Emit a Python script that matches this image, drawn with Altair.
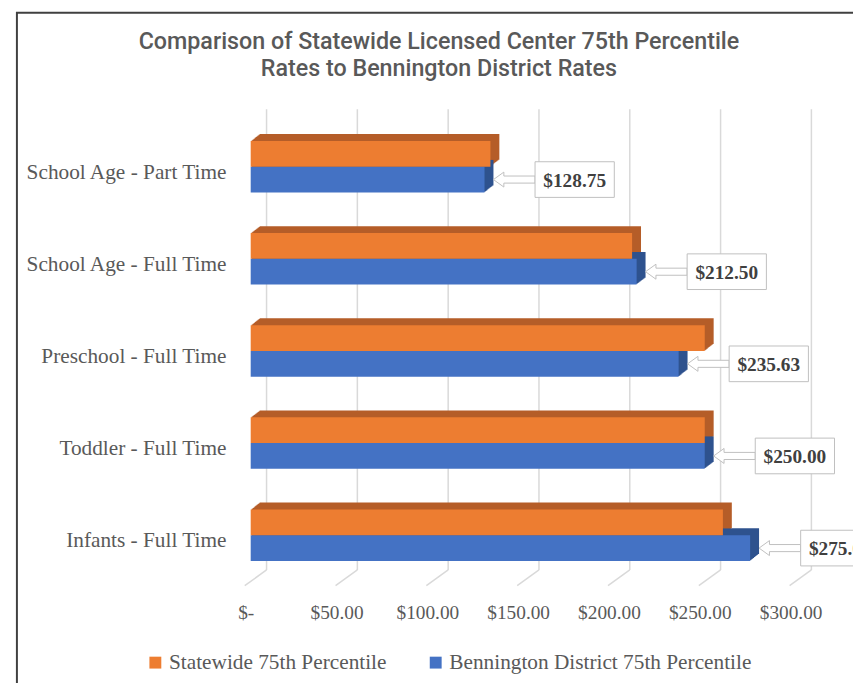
import altair as alt
import pandas as pd

# ---------------- data ----------------
categories = [
    "School Age - Part Time",
    "School Age - Full Time",
    "Preschool - Full Time",
    "Toddler - Full Time",
    "Infants - Full Time",
]
statewide = [132.00, 210.00, 250.00, 250.00, 260.00]
bennington = [128.75, 212.50, 235.63, 250.00, 275.00]
series_names = ["Statewide 75th Percentile", "Bennington District 75th Percentile"]
tick_values = [0, 50, 100, 150, 200, 250, 300]
title_lines = [
    "Comparison of Statewide Licensed Center 75th Percentile",
    "Rates to Bennington District Rates",
]

rows = []
for c, s, b in zip(categories, statewide, bennington):
    rows.append({"category": c, "series": series_names[0], "value": s})
    rows.append({"category": c, "series": series_names[1], "value": b})
df = pd.DataFrame(rows)
ticks_df = pd.DataFrame({"v": tick_values})
one_row = pd.DataFrame({"a": [0]})

# ---------------- styling ----------------
ORANGE, BLUE = "#ED7D31", "#4472C4"
ORANGE_DARK, BLUE_DARK = "#B55D28", "#2E528E"
GRID = "#D9D9D9"
TEXT = "#595959"
SERIF = "Liberation Serif"
BAR_H = 26
DEPTH_X, DEPTH_Y, STEPS = 9, 7, 9

x_scale = alt.Scale(domain=[0, 300], nice=False, zero=True)
y_scale = alt.Scale(domain=categories, paddingInner=0.4, paddingOuter=0.2)

x_axis = alt.Axis(
    values=tick_values,
    labelExpr="datum.value == 0 ? '$-' : '$' + format(datum.value, '.2f')",
    domain=False, ticks=False, grid=False, labelFlush=False,
    labelFont=SERIF, labelFontSize=19.5, labelColor=TEXT,
    labelPadding=23, labelOffset=-5, title=None,
)
y_axis = alt.Axis(
    domain=False, ticks=False, grid=False,
    labelFont=SERIF, labelFontSize=21.5, labelColor=TEXT,
    labelPadding=25, labelOffset=6, labelLimit=0, title=None,
)


def X(field):
    return alt.X(field, type="quantitative", scale=x_scale, axis=x_axis)


def Y(field):
    return alt.Y(field, type="nominal", scale=y_scale, sort=categories, axis=y_axis)


base = alt.Chart(df)
state_only = base.transform_filter(alt.datum.series == series_names[0])
benn_only = base.transform_filter(alt.datum.series == series_names[1])

layers = []

# outer frame
frame = alt.Chart(one_row).mark_rect(
    fillOpacity=0, stroke="#404040", strokeWidth=2
).encode(
    x=alt.value(-236), x2=alt.value(720), y=alt.value(-109), y2=alt.value(700)
)
layers.append(frame)

# chart title (two lines)
for i, line in enumerate(title_lines):
    layers.append(
        alt.Chart(one_row).mark_text(
            font="Roboto", fontSize=23.5, fontWeight=500, color=TEXT,
            align="center", baseline="middle",
        ).encode(
            x=alt.value(190), y=alt.value(-79.5 + 27 * i), text=alt.value(line)
        )
    )

# back-wall gridlines and floor diagonals
grid_v = alt.Chart(ticks_df).mark_rule(color=GRID, strokeWidth=1.5, xOffset=16).encode(
    x=X("v"), y=alt.value(-11.5), y2=alt.value(453.5)
)
grid_d = alt.Chart(ticks_df).mark_rule(
    color=GRID, strokeWidth=1.5, xOffset=16, x2Offset=-6
).encode(
    x=X("v"), x2="v:Q", y=alt.value(453.5), y2=alt.value(469.5)
)
layers += [grid_v, grid_d]

# 3D depth (top + side faces) built from stacked offset copies
for k in range(1, STEPS + 1):
    dx = DEPTH_X * k / STEPS
    dy = DEPTH_Y * k / STEPS
    layers.append(
        benn_only.mark_bar(
            height=BAR_H, color=BLUE_DARK, xOffset=dx, x2Offset=dx,
            yOffset=BAR_H / 2 - dy,
        ).encode(x=X("value"), y=Y("category"))
    )
    layers.append(
        state_only.mark_bar(
            height=BAR_H, color=ORANGE_DARK, xOffset=dx, x2Offset=dx,
            yOffset=-BAR_H / 2 - dy,
        ).encode(x=X("value"), y=Y("category"))
    )

color_enc = alt.Color(
    "series:N",
    scale=alt.Scale(domain=series_names, range=[ORANGE, BLUE]),
    legend=alt.Legend(
        orient="none", legendX=-107, legendY=536, direction="horizontal",
        title=None, symbolType="square", symbolSize=144, symbolStrokeWidth=0,
        labelFont=SERIF, labelFontSize=21.5, labelColor=TEXT, labelLimit=0,
        columnPadding=38, labelOffset=3, padding=0,
    ),
)

# front faces
layers.append(
    benn_only.mark_bar(height=BAR_H, yOffset=BAR_H / 2).encode(
        x=X("value"), y=Y("category"), color=color_enc
    )
)
layers.append(
    state_only.mark_bar(height=BAR_H, yOffset=-BAR_H / 2).encode(
        x=X("value"), y=Y("category"), color=color_enc
    )
)

# callouts for Bennington values
ARROW = "M-1,0L-0.5,-0.36L-0.5,-0.17L1,-0.17L1,0.17L-0.5,0.17L-0.5,0.36Z"
BOX = "M-1,-0.45L1,-0.45L1,0.45L-1,0.45Z"
layers.append(
    benn_only.mark_point(
        shape=ARROW, size=1764, filled=True, fill="white", stroke="#BFBFBF",
        strokeWidth=1, opacity=1, xOffset=30, yOffset=BAR_H / 2,
    ).encode(x=X("value"), y=Y("category"))
)
layers.append(
    benn_only.mark_point(
        shape=BOX, size=6400, filled=True, fill="white", stroke="#BFBFBF",
        strokeWidth=1, opacity=1, xOffset=91, yOffset=BAR_H / 2,
    ).encode(x=X("value"), y=Y("category"))
)
layers.append(
    benn_only.mark_text(
        font=SERIF, fontWeight="bold", fontSize=19.5, color="#404040",
        align="center", baseline="middle", dx=91, dy=BAR_H / 2 + 1,
    ).encode(x=X("value"), y=Y("category"), text=alt.Text("value:Q", format="$.2f"))
)

chart = alt.layer(*layers).properties(
    width=550,
    height=465,
    padding={"left": 245, "top": 110.5, "right": 58, "bottom": 99.5},
    autosize=alt.AutoSizeParams(type="none"),
    background="white",
).configure_view(strokeWidth=0)

chart.save("out.html", embed_options={"renderer": "svg", "actions": False})
